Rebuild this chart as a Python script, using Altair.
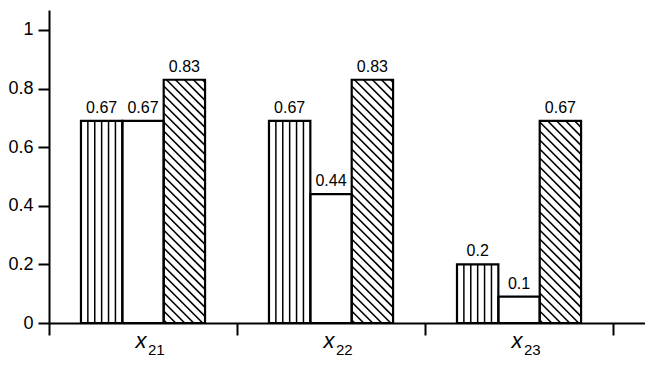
import altair as alt
import pandas as pd
import numpy as np

# ---- data ----
groups = ["21", "22", "23"]
series = ["vertical", "plain", "diagonal"]
heights = [[0.69, 0.69, 0.83],
           [0.69, 0.44, 0.83],
           [0.20, 0.09, 0.69]]
labels = [["0.67", "0.67", "0.83"],
          ["0.67", "0.44", "0.83"],
          ["0.2", "0.1", "0.67"]]
y_ticks = [0, 0.2, 0.4, 0.6, 0.8, 1]
x_ticks = [0, 1, 2, 3]

# ---- layout ----
W, H = 596, 313
XMAX, YMAX = 3.17, 1.068
SX, SY = W / XMAX, H / YMAX          # px per data unit
BAR_START, BAR_W = 0.17, 0.22
FONT = "Liberation Sans"

bars = []
for gi, g in enumerate(groups):
    for si, s in enumerate(series):
        x0 = gi + BAR_START + si * BAR_W
        bars.append(dict(group=g, series=s, x0=x0, x1=x0 + BAR_W,
                         xc=x0 + BAR_W / 2, h=heights[gi][si],
                         label=labels[gi][si], base=0.0))
bars = pd.DataFrame(bars)

# hatch lines derived from bar geometry
vlines, dlines = [], []
for _, b in bars.iterrows():
    if b.series == "vertical":
        n = 6
        for i in range(1, n):
            xv = b.x0 + BAR_W * i / n
            vlines.append(dict(x=xv, x2=xv, y=0.0, y2=b.h))
    elif b.series == "diagonal":
        xa, xb = b.x0 * SX, b.x1 * SX
        top = b.h * SY
        step = 9.0
        c = xa + 3
        while c < xb + top:
            s = max(xa, c - top)
            e = min(xb, c)
            if e > s:
                dlines.append(dict(x=s / SX, x2=e / SX,
                                   y=(c - s) / SY, y2=(c - e) / SY))
            c += step
vlines = pd.DataFrame(vlines)
dlines = pd.DataFrame(dlines)

glab = pd.DataFrame(dict(gx=[i + 0.5 for i in range(len(groups))], sub=groups))

xscale = alt.Scale(domain=[0, XMAX], nice=False, zero=False)
yscale = alt.Scale(domain=[0, YMAX], nice=False)
xax = alt.Axis(values=x_ticks, labels=False, tickSize=12, title=None, grid=False)
yax = alt.Axis(values=y_ticks, format="~g", tickSize=11, labelPadding=5,
               title=None, grid=False)

fill = alt.Chart(bars).mark_rect(fill="white", stroke=None).encode(
    x=alt.X("x0:Q", scale=xscale, axis=xax), x2="x1:Q",
    y=alt.Y("h:Q", scale=yscale, axis=yax), y2="base:Q")

vh = alt.Chart(vlines).mark_rule(color="black", strokeWidth=1.5).encode(
    x=alt.X("x:Q", scale=xscale, axis=xax), x2="x2:Q",
    y=alt.Y("y:Q", scale=yscale, axis=yax), y2="y2:Q")

dh = alt.Chart(dlines).mark_rule(color="black", strokeWidth=1.6).encode(
    x=alt.X("x:Q", scale=xscale, axis=xax), x2="x2:Q",
    y=alt.Y("y:Q", scale=yscale, axis=yax), y2="y2:Q")

outline = alt.Chart(bars).mark_rect(fillOpacity=0, stroke="black",
                                    strokeWidth=2.2).encode(
    x=alt.X("x0:Q", scale=xscale, axis=xax), x2="x1:Q",
    y=alt.Y("h:Q", scale=yscale, axis=yax), y2="base:Q")

vals = alt.Chart(bars).mark_text(font=FONT, fontSize=16, color="black",
                                 baseline="alphabetic", dy=-8).encode(
    x=alt.X("xc:Q", scale=xscale, axis=xax),
    y=alt.Y("h:Q", scale=yscale, axis=yax),
    text="label:N")

xletter = alt.Chart(glab).mark_text(font=FONT, fontSize=22, fontStyle="italic",
                                    color="black", align="center",
                                    baseline="alphabetic", dx=-2, text="x").encode(
    x=alt.X("gx:Q", scale=xscale, axis=xax),
    y=alt.value(338))

xsub = alt.Chart(glab).mark_text(font=FONT, fontSize=15, color="black",
                                 align="left", baseline="alphabetic", dx=5).encode(
    x=alt.X("gx:Q", scale=xscale, axis=xax),
    y=alt.value(345),
    text="sub:N")

chart = alt.layer(fill, vh, dh, outline, vals, xletter, xsub).properties(
    width=W, height=H,
    autosize=alt.AutoSizeParams(type="none"),
    padding={"left": 41, "top": 2, "right": 0, "bottom": 35},
).configure_view(stroke=None).configure_axis(
    domainColor="black", domainWidth=2, tickColor="black", tickWidth=2,
    labelFont=FONT, labelFontSize=18, labelColor="black",
)

chart.save("out.html", embed_options={"renderer": "svg", "actions": False})
